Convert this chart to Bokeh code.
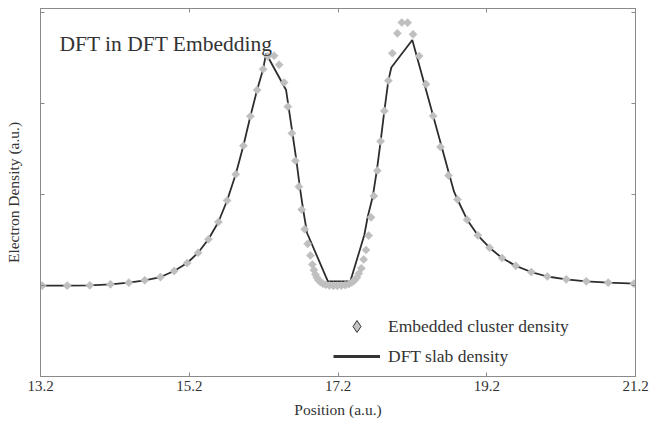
import numpy as np
from bokeh.plotting import figure
from bokeh.models import (Range1d, FixedTicker, LinearAxis, Legend, LegendItem,
                          Label, ColumnDataSource)
from bokeh.embed import file_html
from bokeh.resources import INLINE

# ---------------- data ----------------
# Embedded cluster density (diamond markers)
cluster_x = [13.223, 13.559, 13.863, 14.141, 14.387, 14.602, 14.813, 14.997, 15.172,
             15.319, 15.458, 15.592, 15.709, 15.825, 15.928, 16.022, 16.112, 16.193,
             16.257, 16.341, 16.408, 16.475, 16.526, 16.580, 16.627, 16.674, 16.712,
             16.752, 16.792, 16.829, 16.855, 16.876, 16.896, 16.916, 16.936, 16.963,
             16.997, 17.037, 17.084, 17.138, 17.191, 17.245, 17.299, 17.346, 17.386,
             17.420, 17.454, 17.480, 17.514, 17.545, 17.577, 17.612, 17.644, 17.682,
             17.729, 17.773, 17.823, 17.877, 17.931, 17.998, 18.058, 18.136, 18.209,
             18.291, 18.383, 18.479, 18.578, 18.686, 18.807, 18.936, 19.080, 19.237,
             19.406, 19.590, 19.799, 20.014, 20.269, 20.538, 20.833, 21.179]
cluster_y = [0.998, 0.998, 1.002, 1.013, 1.031, 1.057, 1.093, 1.159, 1.247,
             1.360, 1.508, 1.698, 1.934, 2.222, 2.536, 2.860, 3.148, 3.377,
             3.519, 3.525, 3.426, 3.231, 2.965, 2.673, 2.371, 2.086, 1.835,
             1.619, 1.458, 1.330, 1.231, 1.170, 1.121, 1.088, 1.060, 1.038,
             1.020, 1.008, 1.000, 0.997, 0.997, 0.999, 1.005, 1.016, 1.033,
             1.055, 1.088, 1.132, 1.189, 1.286, 1.390, 1.549, 1.749, 1.984,
             2.262, 2.585, 2.918, 3.251, 3.552, 3.771, 3.890, 3.888, 3.760,
             3.522, 3.212, 2.863, 2.522, 2.209, 1.945, 1.723, 1.551, 1.415,
             1.302, 1.216, 1.148, 1.099, 1.068, 1.046, 1.031, 1.020]

# DFT slab density (line)
slab_x = [13.200, 13.559, 13.863, 14.141, 14.387, 14.602, 14.813, 14.997, 15.172,
          15.319, 15.458, 15.592, 15.709, 15.825, 15.928, 16.022, 16.112, 16.193,
          16.233, 16.502, 16.587, 16.640, 16.687, 16.732, 16.784, 17.064, 17.366,
          17.554, 17.599, 17.669, 17.722, 17.773, 17.823, 17.877, 17.917, 18.199,
          18.760, 18.807, 18.936, 19.080, 19.237, 19.406, 19.590, 19.799, 20.014,
          20.269, 20.538, 20.833, 21.200]
slab_y = [0.998, 0.998, 1.002, 1.013, 1.031, 1.057, 1.093, 1.159, 1.247,
          1.360, 1.508, 1.698, 1.934, 2.222, 2.536, 2.860, 3.148, 3.377,
          3.549, 3.148, 2.676, 2.379, 2.082, 1.830, 1.577, 1.046, 1.046,
          1.555, 1.753, 1.984, 2.262, 2.585, 2.918, 3.251, 3.396, 3.698,
          2.031, 1.945, 1.723, 1.551, 1.415, 1.302, 1.216, 1.148, 1.099,
          1.068, 1.046, 1.031, 1.020]

x_ticks = [13.2, 15.2, 17.2, 19.2, 21.2]
y_ticks = [0, 1, 2, 3, 4]

title_text = "DFT in DFT Embedding"
x_label = "Position (a.u.)"
y_label = "Electron Density (a.u.)"
cluster_label = "Embedded cluster density"
slab_label = "DFT slab density"

# ---------------- styles ----------------
FONT = "Liberation Serif"
TEXT = "#333333"
FRAME = "#8a8a8a"
MARK = "#bfbfbf"
LINE = "#2e2e2e"

p = figure(width=652, height=421, output_backend="svg", toolbar_location=None,
           x_range=Range1d(13.2, 21.2), y_range=Range1d(0, 4.044),
           min_border_left=40, min_border_right=17, min_border_top=8,
           min_border_bottom=45)
# a y range that maps the data outside the frame: used only by legend glyph renderers
p.extra_y_ranges = {"legend_only": Range1d(40, 44)}
p.background_fill_color = "white"
p.border_fill_color = "white"
p.outline_line_color = FRAME
p.outline_line_width = 1
p.grid.visible = False

blank_y = {t: "" for t in y_ticks}
blank_x = {t: "" for t in x_ticks}

# bottom axis
xa = p.xaxis[0]
xa.ticker = FixedTicker(ticks=x_ticks)
xa.axis_label = x_label
xa.axis_label_text_font = FONT
xa.axis_label_text_font_style = "normal"
xa.axis_label_text_font_size = "15.5px"
xa.axis_label_text_color = TEXT
xa.axis_label_standoff = 7
xa.major_label_text_font = FONT
xa.major_label_text_font_size = "15px"
xa.major_label_text_color = TEXT
xa.major_label_standoff = 4
xa.major_tick_in = 4
xa.major_tick_out = 0
xa.minor_tick_in = 0
xa.minor_tick_out = 0
xa.axis_line_color = FRAME
xa.major_tick_line_color = FRAME

# left axis
ya = p.yaxis[0]
ya.ticker = FixedTicker(ticks=y_ticks)
ya.axis_label = y_label
ya.axis_label_text_font = FONT
ya.axis_label_text_font_style = "normal"
ya.axis_label_text_font_size = "15.5px"
ya.axis_label_text_color = TEXT
ya.axis_label_standoff = 19
ya.major_label_overrides = blank_y
ya.major_label_standoff = 0
ya.major_tick_in = 4
ya.major_tick_out = 0
ya.minor_tick_in = 0
ya.minor_tick_out = 0
ya.axis_line_color = FRAME
ya.major_tick_line_color = FRAME

# mirrored axes (ticks only)
top = LinearAxis(ticker=FixedTicker(ticks=x_ticks), major_label_overrides=blank_x,
                 major_label_standoff=0, major_tick_in=4, major_tick_out=0,
                 minor_tick_in=0, minor_tick_out=0, axis_line_color=FRAME,
                 major_tick_line_color=FRAME)
right = LinearAxis(ticker=FixedTicker(ticks=y_ticks), major_label_overrides=blank_y,
                   major_label_standoff=0, major_tick_in=4, major_tick_out=0,
                   minor_tick_in=0, minor_tick_out=0, axis_line_color=FRAME,
                   major_tick_line_color=FRAME)
p.add_layout(top, "above")
p.add_layout(right, "right")

# data renderers
slab_src = ColumnDataSource(data=dict(x=slab_x, y=slab_y))
cluster_src = ColumnDataSource(data=dict(x=cluster_x, y=cluster_y))
p.line("x", "y", source=slab_src, line_color=LINE, line_width=1.8)
p.scatter("x", "y", source=cluster_src, marker="square", angle=np.pi / 4, size=5.8,
          fill_color=MARK, line_color=MARK, line_width=0.5)

# legend-only renderers (same data, mapped outside the frame, so only the legend shows them)
r_leg_mark = p.scatter("x", "y", source=cluster_src, y_range_name="legend_only",
                       marker="diamond",
                       fill_color="#c4c4c4", line_color="#333333", line_width=1)
r_leg_line = p.line("x", "y", source=slab_src, y_range_name="legend_only",
                    line_color="#333333", line_width=3)

legend = Legend(items=[LegendItem(label=cluster_label, renderers=[r_leg_mark]),
                       LegendItem(label=slab_label, renderers=[r_leg_line])],
                location=(293, 5), padding=0, margin=0, spacing=0,
                glyph_width=47, glyph_height=30, label_height=30,
                label_standoff=8, border_line_color=None,
                background_fill_alpha=0,
                label_text_font=FONT, label_text_font_size="17.5px",
                label_text_color=TEXT)
p.add_layout(legend, "center")

# in-plot title
p.add_layout(Label(x=19, y=333, x_units="screen", y_units="screen", text=title_text,
                   text_font=FONT, text_font_size="21.5px", text_color=TEXT,
                   text_baseline="alphabetic"))

open("out.html", "w").write(file_html(p, INLINE))
